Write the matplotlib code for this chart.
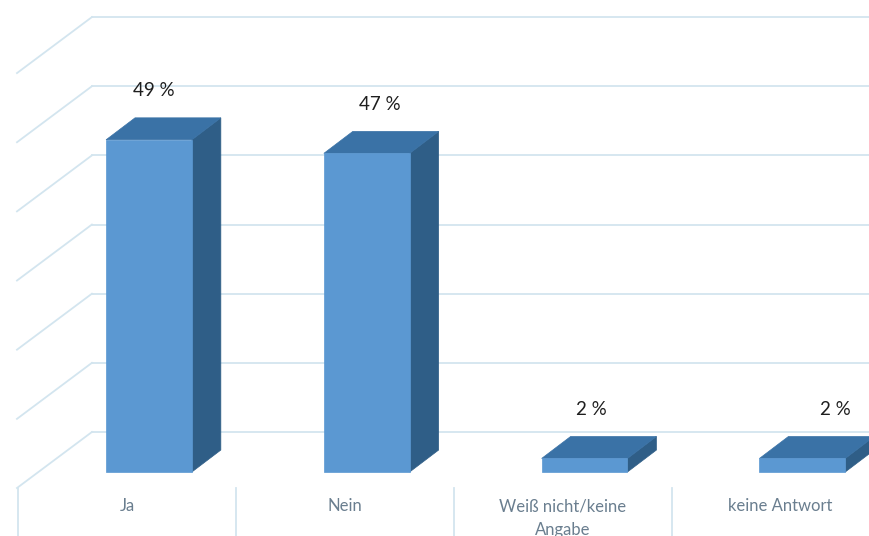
import matplotlib.pyplot as plt
from matplotlib.patches import Polygon

categories = ["Ja", "Nein", "Weiß nicht/keine\nAngabe", "keine Antwort"]
shares = [49, 47, 2, 2]
grid_values = [0, 10, 20, 30, 40, 50, 60]

# colours of the 3d columns and the chart frame
FRONT = "#5B98D2"
TOP = "#3A72A6"
SIDE = "#2F5E87"
GRID = "#D3E5EF"
LABEL = "#6A7E8F"

# fake 3d geometry (category units on x, percent on y)
HALF_W = 0.197
DEPTH_X, DEPTH_Y = 0.133, 3.24
WALL_X = -0.262
WALL_BASE, WALL_STEP = 5.9, 1.02
LEFT_DX, LEFT_DY = -0.344, -8.26
FLOOR_FRONT = -2.36
LABEL_SHIFT = [0.02, 0.06, 0.03, 0.15]


def draw_column(ax, x, h):
    x0, x1 = x - HALF_W, x + HALF_W
    front = [(x0, 0), (x1, 0), (x1, h), (x0, h)]
    top = [(x0, h), (x1, h), (x1 + DEPTH_X, h + DEPTH_Y), (x0 + DEPTH_X, h + DEPTH_Y)]
    side = [(x1, 0), (x1 + DEPTH_X, DEPTH_Y), (x1 + DEPTH_X, h + DEPTH_Y), (x1, h)]
    ax.add_patch(Polygon(side, closed=True, fc=SIDE, ec=SIDE, lw=0.5, zorder=3))
    ax.add_patch(Polygon(top, closed=True, fc=TOP, ec=TOP, lw=0.5, zorder=3))
    ax.add_patch(Polygon(front, closed=True, fc=FRONT, ec=FRONT, lw=0.5, zorder=4))


def main():
    plt.rcParams['font.family'] = ['Lato', 'DejaVu Sans']
    fig = plt.figure(figsize=(8.69, 5.36), dpi=100)
    ax = fig.add_axes([0, 0, 1, 1])
    ax.set_xlim(-0.684, 3.306)
    ax.set_ylim(-9.44, 69.62)
    ax.axis("off")

    # back wall gridlines with their diagonal on the side wall
    for g in grid_values:
        y = WALL_BASE + g * WALL_STEP
        ax.plot([WALL_X, 3.4], [y, y], color=GRID, lw=1.3, zorder=1)
        ax.plot([WALL_X + LEFT_DX, WALL_X], [y + LEFT_DY, y], color=GRID, lw=1.3, zorder=1)

    # separators between the category labels
    for k in range(len(categories)):
        ax.plot([k - 0.6, k - 0.6], [FLOOR_FRONT, -10], color=GRID, lw=1.3, zorder=1)

    for i, (cat, v) in enumerate(zip(categories, shares)):
        draw_column(ax, i, v)
        ax.text(i + LABEL_SHIFT[i], v + 7.2, f"{v} %", ha="center", va="center",
                fontsize=13.5, color="#1E1E1E", zorder=5)
        ax.text(i - 0.1, -3.9, cat, ha="center", va="top", fontsize=12,
                color=LABEL, linespacing=1.55)

    fig.savefig("out.png", dpi=100)


if __name__ == "__main__":
    main()
